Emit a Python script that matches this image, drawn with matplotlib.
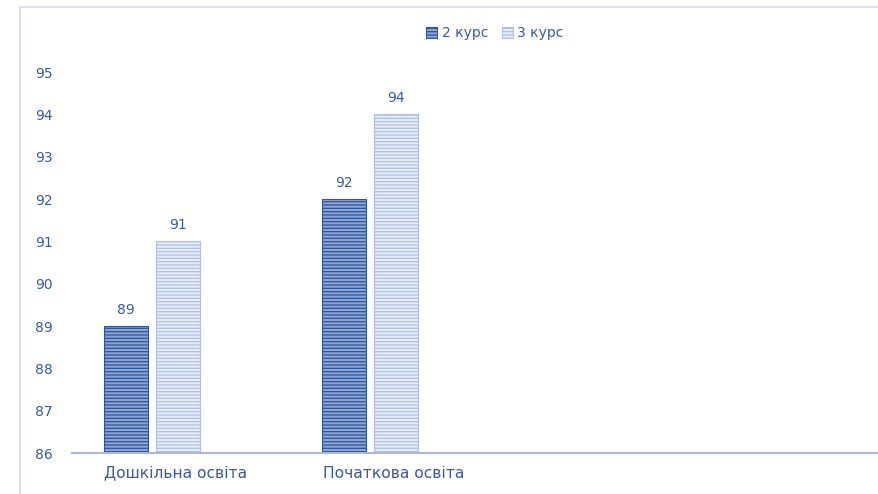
import matplotlib.pyplot as plt
import matplotlib.patches as mpatches
import matplotlib.transforms as mtransforms
import numpy as np

# Daten
kategorien = ["Дошкільна освіта", "Початкова освіта"]
kurs2 = [89, 92]
kurs3 = [91, 94]
serien = ["2 курс", "3 курс"]
y_ticks = [86, 87, 88, 89, 90, 91, 92, 93, 94, 95]

text_blau = '#3B5A9E'
plt.rcParams['font.family'] = ['DejaVu Sans']
plt.rcParams['hatch.linewidth'] = 0.9

fig = plt.figure(figsize=(8.79, 4.94), dpi=100)
ax = fig.add_axes([72 / 879, 1 - 453 / 494, 1 - 72 / 879, (453 - 72) / 494])

# Rahmen um das Diagramm
fig.patches.append(mpatches.Rectangle((20 / 879, -0.01), 1.0, 1 - 7 / 494 + 0.01,
                                      transform=fig.transFigure, fill=False,
                                      edgecolor='#D3DAE8', linewidth=1.2))

x = np.arange(len(kategorien))
breite = 0.2
b1 = ax.bar(x - 0.12, np.array(kurs2) - 86, breite, bottom=86, color='#8CA3D6',
            edgecolor='#2F5597', hatch='-----', linewidth=0.8, label=serien[0])
b2 = ax.bar(x + 0.12, np.array(kurs3) - 86, breite, bottom=86, color='#E6ECF7',
            edgecolor='#AFC0E3', hatch='-----', linewidth=0.8, label=serien[1])

# Werte über den Balken
for balken, werte in [(b1, kurs2), (b2, kurs3)]:
    for rect, w in zip(balken, werte):
        ax.text(rect.get_x() + rect.get_width() / 2, w + 0.22, str(w),
                ha='center', va='bottom', fontsize=10, color=text_blau)

ax.set_xlim(-0.367, 3.335)
ax.set_ylim(86, 95)
ax.set_yticks(y_ticks)
ax.set_xticks(x)
ax.set_xticklabels(kategorien, fontsize=11.2, color=text_blau)
ax.tick_params(axis='y', length=0, labelsize=10, labelcolor=text_blau, pad=14)
ax.tick_params(axis='x', length=0, pad=9)
# Kategorienbeschriftungen etwas nach rechts verschieben
versatz = mtransforms.ScaledTranslation(0.24, 0, fig.dpi_scale_trans)
for lbl in ax.get_xticklabels():
    lbl.set_transform(lbl.get_transform() + versatz)
for s in ['top', 'right', 'left']:
    ax.spines[s].set_visible(False)
ax.spines['bottom'].set_color('#A9B8D8')
ax.spines['bottom'].set_linewidth(1.5)

ax.legend(loc='center', bbox_to_anchor=(0.524, 1.102), ncol=2, frameon=False,
          fontsize=10, labelcolor=text_blau, handlelength=0.8, handleheight=0.8,
          handletextpad=0.3, columnspacing=1.0)

fig.savefig('out.png', dpi=100)
